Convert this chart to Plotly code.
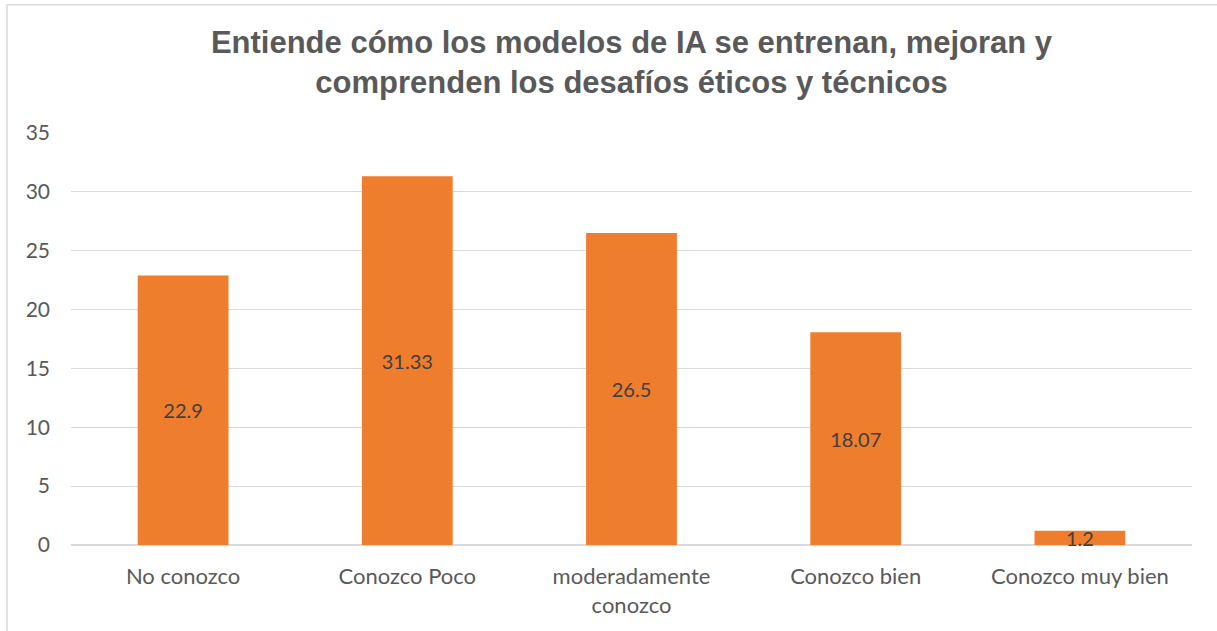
import plotly.graph_objects as go

categories = ["No conozco", "Conozco Poco", "moderadamente<br>conozco", "Conozco bien", "Conozco muy bien"]
values = [22.9, 31.33, 26.5, 18.07, 1.2]
labels = ["22.9", "31.33", "26.5", "18.07", "1.2"]
y_ticks = [0, 5, 10, 15, 20, 25, 30, 35]

TICK_FONT = "Lato, Open Sans, sans-serif"

fig = go.Figure(go.Bar(
    x=categories, y=values, text=labels, textposition="inside",
    insidetextanchor="middle", textangle=0, constraintext="none",
    textfont=dict(family=TICK_FONT, size=20, color="#404040"),
    marker=dict(color="#EE7D2E", line=dict(width=0)),
    width=0.405, cliponaxis=False, hoverinfo="skip",
))

fig.update_layout(
    width=1217, height=631,
    margin=dict(l=71, r=25, t=133, b=86),
    paper_bgcolor="white", plot_bgcolor="white",
    title=dict(
        text="<b>Entiende cómo los modelos de IA se entrenan, mejoran y<br>comprenden los desafíos éticos y técnicos</b>",
        x=0.5, xanchor="center", xref="paper", yref="container", y=0.916, yanchor="top",
        font=dict(family="Liberation Sans, Arial, sans-serif", size=31, color="#595959"),
    ),
    showlegend=False,
    xaxis=dict(
        showgrid=False, showline=False, ticks="", ticklabelstandoff=16,
        tickfont=dict(family=TICK_FONT, size=22, color="#595959"),
    ),
    yaxis=dict(
        range=[0, 35], tickvals=y_ticks, showgrid=True, gridcolor="#D9D9D9", gridwidth=1,
        zeroline=True, zerolinecolor="#D9D9D9", zerolinewidth=1.5, showline=False,
        ticks="", ticklabelstandoff=20,
        tickfont=dict(family=TICK_FONT, size=21, color="#595959"),
    ),
    shapes=[dict(type="rect", xref="paper", yref="paper",
                 x0=-0.0571, x1=1.05, y0=-0.3, y1=1.311,
                 line=dict(color="#D9D9D9", width=1.5), fillcolor="rgba(0,0,0,0)", layer="below")],
)

fig.write_html("out.html", config={"displayModeBar": False},
               post_script="document.body.style.margin='0';")
